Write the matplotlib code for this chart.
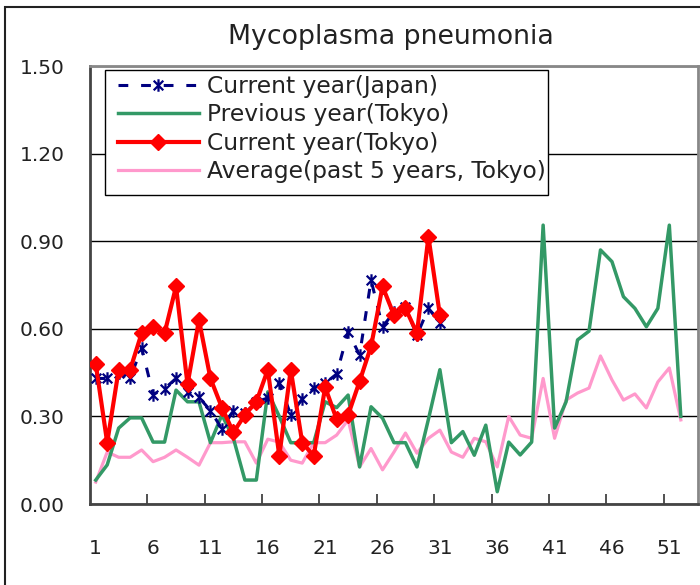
import matplotlib
matplotlib.use("Agg")
import matplotlib.pyplot as plt
from matplotlib.path import Path
from matplotlib.patches import Rectangle

weeks = list(range(1, 53))
japan_current = [0.43, 0.43, 0.45, 0.43, 0.535, 0.375, 0.395, 0.43, 0.385, 0.365,
                 0.32, 0.257, 0.32, 0.31, 0.35, 0.363, 0.414, 0.305, 0.36, 0.397,
                 0.414, 0.445, 0.59, 0.51, 0.767, 0.607, 0.657, 0.675, 0.578, 0.67, 0.62]
tokyo_previous = [0.082, 0.134, 0.26, 0.295, 0.295, 0.212, 0.212, 0.39, 0.35, 0.35,
                  0.21, 0.305, 0.225, 0.082, 0.082, 0.384, 0.30, 0.21, 0.21, 0.21,
                  0.35, 0.33, 0.373, 0.127, 0.333, 0.294, 0.21, 0.21, 0.127, 0.29,
                  0.46, 0.21, 0.248, 0.167, 0.27, 0.042, 0.212, 0.168, 0.212, 0.955,
                  0.26, 0.35, 0.562, 0.592, 0.87, 0.83, 0.71, 0.67, 0.607, 0.67, 0.955, 0.30]
tokyo_current = [0.48, 0.21, 0.46, 0.46, 0.585, 0.605, 0.585, 0.745, 0.41, 0.63,
                 0.43, 0.33, 0.245, 0.305, 0.35, 0.46, 0.165, 0.46, 0.21, 0.165,
                 0.40, 0.29, 0.305, 0.42, 0.54, 0.745, 0.647, 0.67, 0.585, 0.915, 0.647]
tokyo_average = [0.075, 0.178, 0.16, 0.16, 0.185, 0.145, 0.16, 0.185, 0.16, 0.133,
                 0.21, 0.21, 0.213, 0.213, 0.14, 0.222, 0.212, 0.15, 0.14, 0.21,
                 0.21, 0.236, 0.288, 0.127, 0.19, 0.117, 0.178, 0.243, 0.174, 0.225,
                 0.253, 0.178, 0.16, 0.225, 0.213, 0.127, 0.30, 0.236, 0.225, 0.43,
                 0.225, 0.356, 0.38, 0.397, 0.507, 0.425, 0.356, 0.377, 0.329, 0.418, 0.466, 0.288]
labels = ["Current year(Japan)", "Previous year(Tokyo)", "Current year(Tokyo)",
          "Average(past 5 years, Tokyo)"]
title = "Mycoplasma pneumonia"
x_tick_labels = [1, 6, 11, 16, 21, 26, 31, 36, 41, 46, 51]
y_ticks = [0.0, 0.3, 0.6, 0.9, 1.2, 1.5]

plt.rcParams['font.family'] = ['DejaVu Sans']
TXT = '#222222'

W, H = 700, 585
fig = plt.figure(figsize=(W / 100, H / 100), dpi=100)
L, R, T, B = 90, 698, 66, 504
ax = fig.add_axes([L / W, 1 - B / H, (R - L) / W, (B - T) / H])

# outer chart frame
fig.patches.append(Rectangle((5 / W, -0.1), 1.2, 1 - 7 / H + 0.1, transform=fig.transFigure,
                             fill=False, edgecolor='#222222', linewidth=1.5))

# star marker (X with a vertical bar)
star = Path([(-1, -1), (1, 1), (-1, 1), (1, -1), (0, -1.3), (0, 1.3)],
            [Path.MOVETO, Path.LINETO, Path.MOVETO, Path.LINETO, Path.MOVETO, Path.LINETO])

wk_cur = weeks[:len(tokyo_current)]
ax.plot(weeks, tokyo_average, color='#FF99CC', lw=2.3, zorder=2, label=labels[3])
ax.plot(weeks, tokyo_previous, color='#339966', lw=2.5, zorder=3, label=labels[1])
ax.plot(wk_cur, japan_current[:len(wk_cur)], color='#000080', lw=2.2, linestyle=(0, (3.2, 4.2)),
        marker=star, markersize=9, markeredgewidth=1.6, markerfacecolor='none',
        markeredgecolor='#000080', zorder=4, label=labels[0])
ax.plot(wk_cur, tokyo_current, color='#FF0000', lw=3.0, marker='D', markersize=8.5,
        markeredgecolor='#FF0000', markerfacecolor='#FF0000', zorder=5, label=labels[2])

ax.set_xlim(0.5, 53.5)
ax.set_ylim(0, 1.5)
ax.set_yticks(y_ticks)
ax.set_yticklabels([f"{v:.2f}" for v in y_ticks], fontsize=14.5, color=TXT)
ax.tick_params(axis='y', length=0, pad=18)
ax.yaxis.grid(True, color='#000000', linewidth=1.0)
ax.set_axisbelow(True)

ax.set_xticks(x_tick_labels)
ax.set_xticklabels([str(v) for v in x_tick_labels], fontsize=14.5, color=TXT)
ax.tick_params(axis='x', which='major', length=0, pad=25)
ax.set_xticks([x + 0.5 for x in range(0, 54, 5)][1:], minor=True)
ax.tick_params(axis='x', which='minor', direction='in', length=7, width=1.2, color='#333333')

for s in ['left', 'bottom']:
    ax.spines[s].set_color('#444444')
    ax.spines[s].set_linewidth(2)
for s in ['top', 'right']:
    ax.spines[s].set_color('#888888')
    ax.spines[s].set_linewidth(2)

fig.text(391 / W, 1 - 37 / H, title, ha='center', va='center', fontsize=19.3, color=TXT)

# legend frame
fig.patches.append(Rectangle((105 / W, 1 - 195 / H), (548 - 105) / W, (195 - 70) / H,
                             transform=fig.transFigure, facecolor='white',
                             edgecolor='#000000', linewidth=1.0, zorder=10))

h, l = ax.get_legend_handles_labels()
hd = {lab: hh for hh, lab in zip(h, l)}
leg = fig.legend([hd[x] for x in labels], labels, loc='upper left',
                 bbox_to_anchor=(118 / W, 1 - 75 / H), fontsize=16.8,
                 frameon=False, handlelength=3.45, handletextpad=0.36, borderpad=0.0,
                 labelspacing=0.23, borderaxespad=0, markerscale=1.0)
leg.set_zorder(11)
for t in leg.get_texts():
    t.set_color(TXT)

fig.savefig('out.png', dpi=100)
